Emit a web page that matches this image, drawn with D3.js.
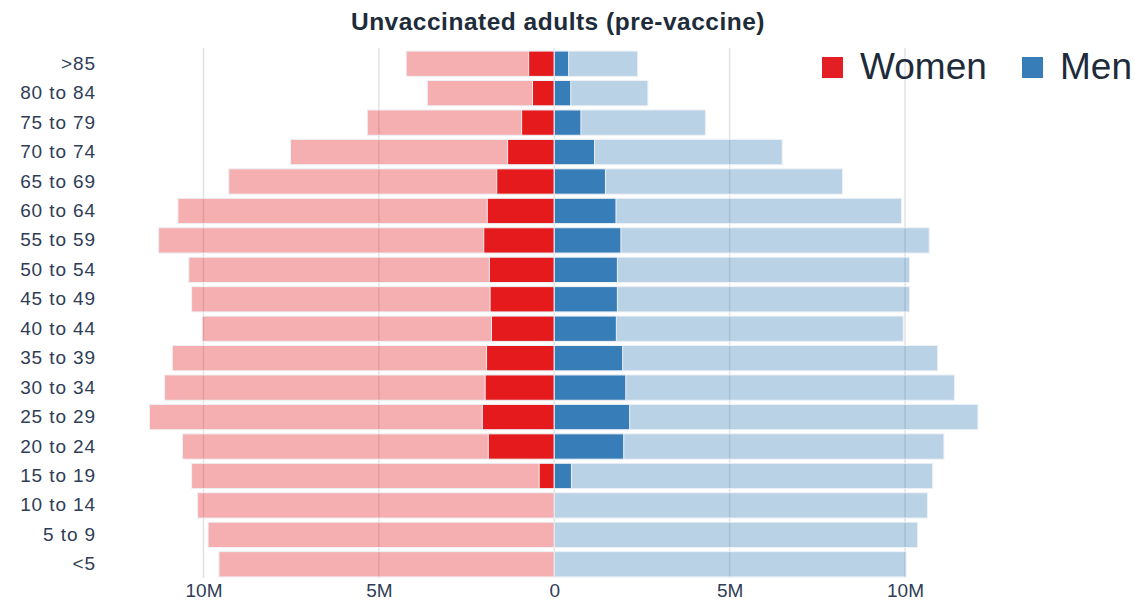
<!DOCTYPE html>
<html>
<head>
<meta charset="utf-8">
<script src="https://cdn.jsdelivr.net/npm/d3@7"></script>
<style>
  body { margin: 0; background: #fff; }
  text { font-family: "Liberation Sans", Arial, Helvetica, sans-serif; }
</style>
</head>
<body>
<div id="chart"></div>
<script>
// age groups, top to bottom
var ageGroups = [">85", "80 to 84", "75 to 79", "70 to 74", "65 to 69", "60 to 64", "55 to 59",
  "50 to 54", "45 to 49", "40 to 44", "35 to 39", "30 to 34", "25 to 29", "20 to 24",
  "15 to 19", "10 to 14", "5 to 9", "<5"];

// values in millions
var womenTotal = [4.22, 3.62, 5.33, 7.52, 9.28, 10.73, 11.28, 10.42, 10.34, 10.04, 10.89, 11.11, 11.54, 10.6, 10.34, 10.17, 9.87, 9.56];
var womenUnvax = [0.73, 0.62, 0.93, 1.33, 1.64, 1.91, 2.01, 1.85, 1.83, 1.79, 1.93, 1.97, 2.05, 1.88, 0.43, 0, 0, 0];
var menTotal = [2.38, 2.67, 4.31, 6.5, 8.22, 9.9, 10.69, 10.13, 10.13, 9.95, 10.93, 11.41, 12.08, 11.11, 10.79, 10.64, 10.36, 10.03];
var menUnvax = [0.41, 0.47, 0.76, 1.15, 1.46, 1.76, 1.9, 1.8, 1.8, 1.77, 1.95, 2.04, 2.15, 1.98, 0.49, 0, 0, 0];

var tickValues = [-10e6, -5e6, 0, 5e6, 10e6];
var legendItems = ["Women", "Men"];

var red = "#e41a1c", blue = "#377eb8";

var svg = d3.select("#chart").append("svg")
  .attr("width", 1135)
  .attr("height", 605);

var x = d3.scaleLinear().domain([-10e6, 10e6]).range([203.5, 905]);
var y = d3.scaleBand().domain(ageGroups).range([49, 579])
  .paddingInner(0.14).paddingOuter(0.07);

// title
svg.append("text")
  .attr("x", 558).attr("y", 30)
  .attr("text-anchor", "middle")
  .style("font-size", "24.5px").style("font-weight", "bold")
  .style("letter-spacing", "0.5px")
  .style("fill", "#1e2b3a")
  .text("Unvaccinated adults (pre-vaccine)");

// grid lines
svg.append("g").selectAll("line")
  .data(tickValues)
  .enter().append("line")
  .attr("x1", function(d) { return x(d); })
  .attr("x2", function(d) { return x(d); })
  .attr("y1", 48).attr("y2", 578)
  .style("stroke", "#e2e2e2")
  .style("stroke-width", 1.5);

var rows = ageGroups.map(function(g, i) {
  return { age: g, wt: womenTotal[i] * 1e6, wu: womenUnvax[i] * 1e6, mt: menTotal[i] * 1e6, mu: menUnvax[i] * 1e6 };
});

var bars = svg.append("g");

// light bars = whole population
bars.selectAll(".wt").data(rows).enter().append("rect")
  .attr("x", function(d) { return x(-d.wt); })
  .attr("y", function(d) { return y(d.age); })
  .attr("width", function(d) { return x(0) - x(-d.wt); })
  .attr("height", y.bandwidth())
  .style("fill", red).style("fill-opacity", 0.35)
  .style("stroke", "#eef1f6").style("stroke-width", 1);

bars.selectAll(".mt").data(rows).enter().append("rect")
  .attr("x", x(0))
  .attr("y", function(d) { return y(d.age); })
  .attr("width", function(d) { return x(d.mt) - x(0); })
  .attr("height", y.bandwidth())
  .style("fill", blue).style("fill-opacity", 0.35)
  .style("stroke", "#eef1f6").style("stroke-width", 1);

// dark bars = unvaccinated
bars.selectAll(".wu").data(rows.filter(function(d) { return d.wu > 0; })).enter().append("rect")
  .attr("x", function(d) { return x(-d.wu); })
  .attr("y", function(d) { return y(d.age); })
  .attr("width", function(d) { return x(0) - x(-d.wu); })
  .attr("height", y.bandwidth())
  .style("fill", red)
  .style("stroke", "#eef1f6").style("stroke-width", 1);

bars.selectAll(".mu").data(rows.filter(function(d) { return d.mu > 0; })).enter().append("rect")
  .attr("x", x(0))
  .attr("y", function(d) { return y(d.age); })
  .attr("width", function(d) { return x(d.mu) - x(0); })
  .attr("height", y.bandwidth())
  .style("fill", blue)
  .style("stroke", "#eef1f6").style("stroke-width", 1);

// y labels
var yAxis = svg.append("g")
  .attr("transform", "translate(96,0)")
  .call(d3.axisLeft(y).tickSize(0).tickPadding(0));
yAxis.select(".domain").remove();
yAxis.selectAll("text")
  .style("font-size", "19px")
  .style("letter-spacing", "0.9px")
  .style("fill", "#2f3d57")
  .attr("font-family", null);

// x axis
var xAxis = svg.append("g")
  .attr("transform", "translate(0,580)")
  .call(d3.axisBottom(x).tickValues(tickValues).tickSize(0).tickPadding(4)
    .tickFormat(function(d) { return d === 0 ? "0" : Math.abs(d) / 1e6 + "M"; }));
xAxis.select(".domain").remove();
xAxis.selectAll("text")
  .style("font-size", "19px")
  .style("fill", "#2f3d57")
  .attr("font-family", null);

// legend
var legend = svg.append("g").selectAll("g")
  .data(legendItems)
  .enter().append("g")
  .attr("transform", function(d, i) { return "translate(" + (i === 0 ? 822 : 1022) + ",0)"; });

legend.append("rect")
  .attr("x", 0).attr("y", 57)
  .attr("width", 21).attr("height", 21)
  .style("fill", function(d, i) { return i === 0 ? "#e31e24" : blue; });

legend.append("text")
  .attr("x", 38).attr("y", 79)
  .style("font-size", "37px")
  .style("fill", "#1e2b3a")
  .text(function(d) { return d; });
</script>
</body>
</html>
